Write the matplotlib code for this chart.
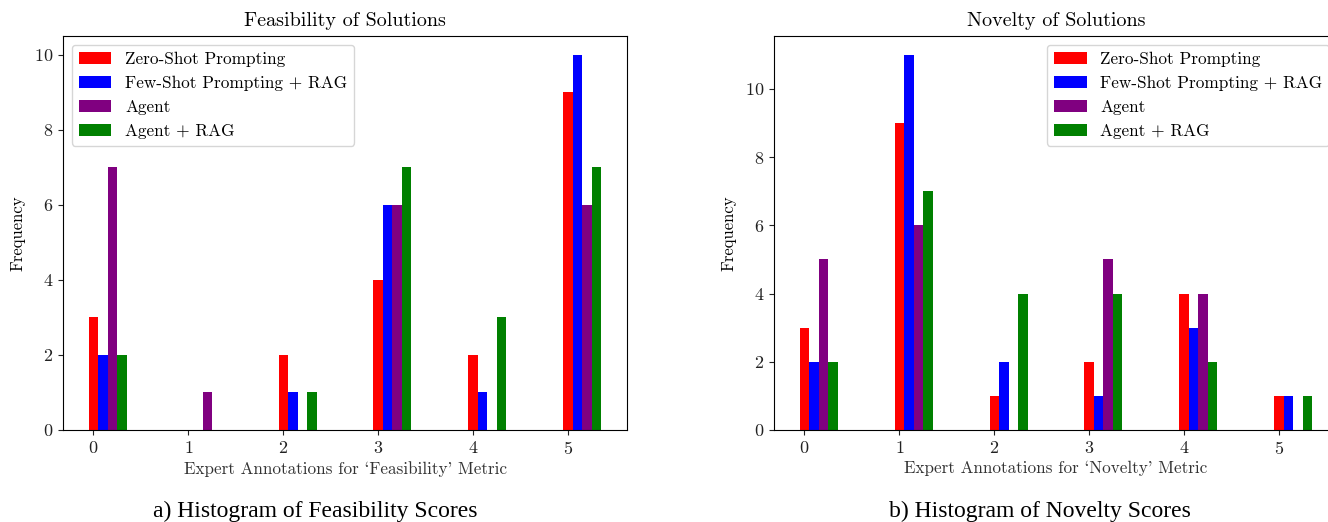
import matplotlib.pyplot as plt
import numpy as np

# Scores 0..5 and the four methods
scores = [0, 1, 2, 3, 4, 5]
methods = ["Zero-Shot Prompting", "Few-Shot Prompting + RAG", "Agent", "Agent + RAG"]
colors = ["red", "blue", "purple", "green"]

# Frequency of each score per method
feas_zero = [3, 0, 2, 4, 2, 9]
feas_few = [2, 0, 1, 6, 1, 10]
feas_agent = [7, 1, 0, 6, 0, 6]
feas_agent_rag = [2, 0, 1, 7, 3, 7]

nov_zero = [3, 9, 1, 2, 4, 1]
nov_few = [2, 11, 2, 1, 3, 1]
nov_agent = [5, 6, 0, 5, 4, 0]
nov_agent_rag = [2, 7, 4, 4, 2, 1]

plt.rcParams['font.family'] = ['cmr10', 'DejaVu Serif']
plt.rcParams['axes.formatter.use_mathtext'] = True

fig = plt.figure(figsize=(13.28, 5.22), dpi=100)
W, H = 1328, 522
ax1 = fig.add_axes([63 / W, 92 / H, 564 / W, 394 / H])
ax2 = fig.add_axes([774 / W, 92 / H, 564 / W, 394 / H])


def draw_panel(ax, series, title, xlabel, legend_loc):
    x = np.array(scores)
    width = 0.1
    for i, (vals, name, col) in enumerate(zip(series, methods, colors)):
        ax.bar(x + i * width, vals, width=width, color=col, label=name)
    ax.set_xticks(scores)
    ax.set_title(title, fontsize=14.5, pad=7)
    ax.set_xlabel(xlabel, fontsize=12.3, color='#333333', labelpad=3)
    ax.set_ylabel("Frequency", fontsize=12, labelpad=6)
    ax.tick_params(labelsize=13, colors='#222222')
    ax.legend(loc=legend_loc, fontsize=12.4, handlelength=1.9)


draw_panel(ax1, [feas_zero, feas_few, feas_agent, feas_agent_rag],
           "Feasibility of Solutions",
           "Expert Annotations for `Feasibility' Metric", "upper left")
draw_panel(ax2, [nov_zero, nov_few, nov_agent, nov_agent_rag],
           "Novelty of Solutions",
           "Expert Annotations for `Novelty' Metric", "upper right")

# captions below each panel
fig.text(315 / W, 5 / H, "a) Histogram of Feasibility Scores",
         family='Liberation Serif', fontsize=17, ha='center', va='baseline')
fig.text(1040 / W, 5 / H, "b) Histogram of Novelty Scores",
         family='Liberation Serif', fontsize=17, ha='center', va='baseline')

fig.savefig("out.png", dpi=100)
